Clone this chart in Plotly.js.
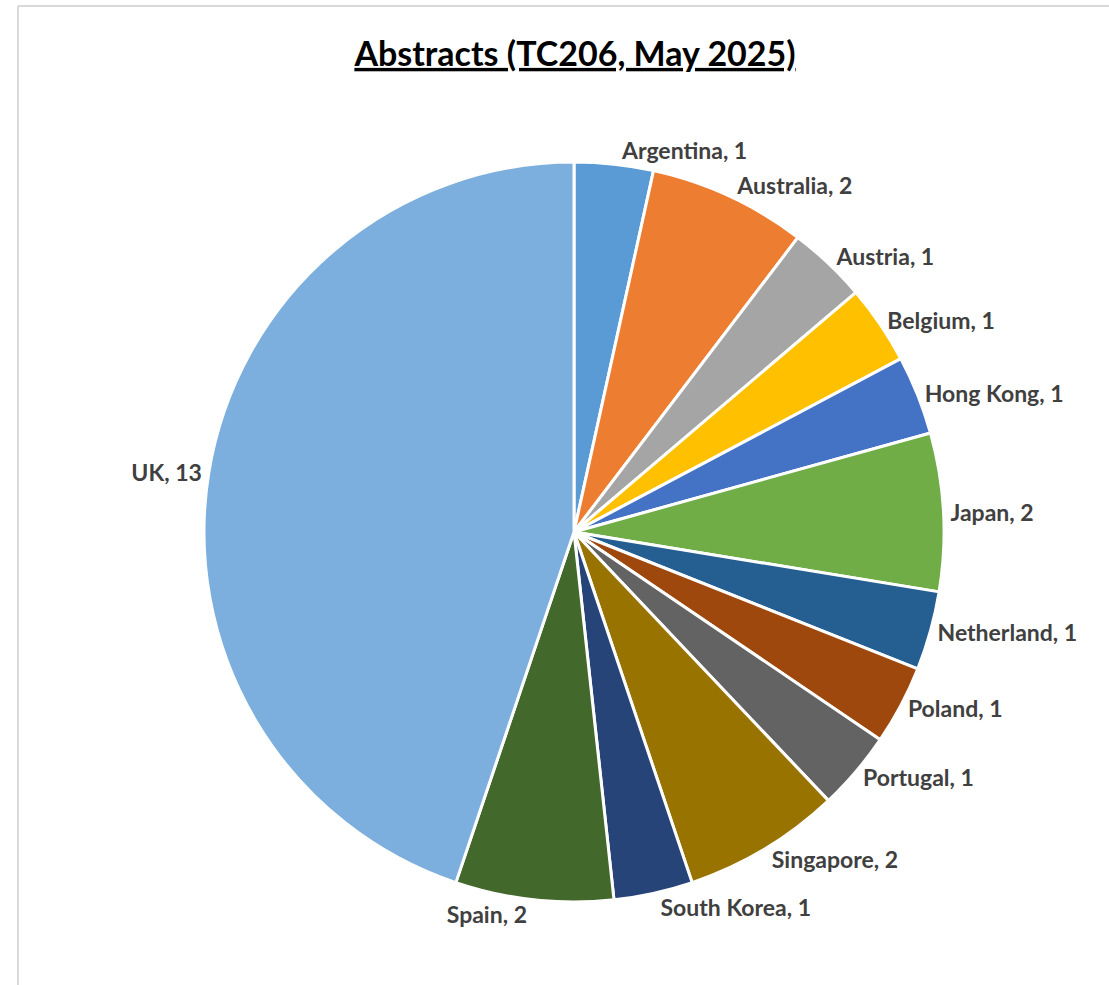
<!DOCTYPE html>
<html>
<head>
<meta charset="utf-8">
<script src="https://cdn.plot.ly/plotly-3.0.1.min.js"></script>
<style>html,body{margin:0;padding:0;background:#fff;}#chart{width:1109px;height:985px;}</style>
</head>
<body>
<div id="chart"></div>
<script>
const countries = ["Argentina","Australia","Austria","Belgium","Hong Kong","Japan","Netherland","Poland","Portugal","Singapore","South Korea","Spain","UK"];
const abstracts = [1,2,1,1,1,2,1,1,1,2,1,2,13];
const sliceColors = ["#5B9BD5","#ED7D31","#A5A5A5","#FFC000","#4472C4","#70AD47","#255E91","#9E480E","#636363","#997300","#264478","#43682B","#7CAFDD"];
const chartTitle = "Abstracts (TC206, May 2025)";

const W = 1109, H = 985;
const cx = 574, cy = 532, r = 370;
const labelFont = {family: "Lato, 'Open Sans', sans-serif", size: 23, color: "#404040", weight: "bold"};

const trace = {
  type: "pie",
  labels: countries,
  values: abstracts,
  sort: false,
  direction: "clockwise",
  rotation: 0,
  marker: {colors: sliceColors, line: {color: "#ffffff", width: 3}},
  texttemplate: "%{label}, %{value}",
  textposition: "outside",
  outsidetextfont: labelFont,
  hoverinfo: "label+value",
  showlegend: false,
  domain: {x: [(cx - r) / W, (cx + r) / W], y: [1 - (cy + r) / H, 1 - (cy - r) / H]}
};

const layout = {
  width: W, height: H,
  margin: {l: 0, r: 0, t: 0, b: 0},
  paper_bgcolor: "#ffffff",
  title: {
    text: "<b><u>" + chartTitle + "</u></b>",
    font: {family: "Lato, 'Open Sans', sans-serif", size: 34, color: "#000000"},
    x: 575 / W, xanchor: "center",
    y: 1 - 54 / H, yanchor: "middle"
  },
  shapes: [
    {type: "line", xref: "paper", yref: "paper", x0: 18 / W, x1: 18 / W, y0: 0, y1: 1 - 6 / H, line: {color: "#d9d9d9", width: 2}},
    {type: "line", xref: "paper", yref: "paper", x0: 18 / W, x1: 1, y0: 1 - 6 / H, y1: 1 - 6 / H, line: {color: "#d9d9d9", width: 2}}
  ]
};

Plotly.newPlot("chart", [trace], layout, {displayModeBar: false, staticPlot: true});
</script>
</body>
</html>
